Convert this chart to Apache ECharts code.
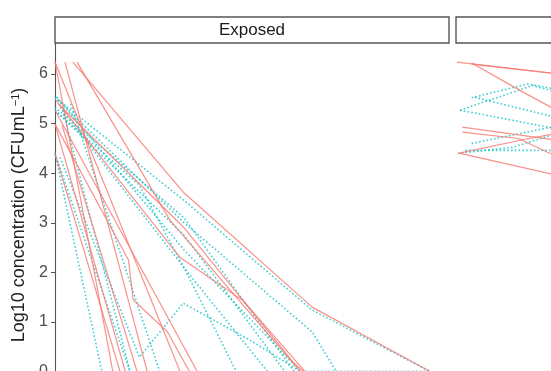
<!DOCTYPE html>
<html><head><meta charset="utf-8">
<script src="https://cdn.jsdelivr.net/npm/echarts@6/dist/echarts.min.js"></script>
<style>html,body{margin:0;padding:0;background:#fff}#c{width:551px;height:371px}</style>
</head><body><div id="c"></div>
<script>
// ---- data (time in h, value in log10 CFU/mL) ----
const yTicks = [0, 1, 2, 3, 4, 5, 6];
const panelNames = ['Exposed', ''];
// Exposed panel - solid red group
const exposedRed = [
  [[0, 6.24], [3.7, 0]],
  [[0, 6.24], [8.0, 0]],
  [[0.64, 6.24], [5.9, 0]],
  [[1.15, 6.24], [8.26, 3.6], [16.45, 1.3], [24, 0]],
  [[1.41, 6.24], [7.36, 3.05], [15.7, 0]],
  [[0, 4.99], [4.5, 0]],
  [[0, 4.4], [4.16, 0]],
  [[0.45, 4.97], [5.25, 0]],
  [[0, 4.99], [4.7, 2.25], [5.0, 1.45], [7.2, 0.8], [8.6, 0]],
  [[0, 5.27], [9.1, 0]],
  [[0, 5.5], [8, 2.3], [12, 1.44], [16, 0]],
  [[0.2, 5.4], [8.26, 2.9], [15.2, 0.2], [15.9, 0]]
];
// Exposed panel - dotted cyan group
const exposedCyan = [
  [[0, 5.53], [8.26, 3.45], [16.45, 1.24], [24, 0]],
  [[0, 5.33], [8.26, 3.1], [15.3, 0]],
  [[0, 5.27], [8.26, 2.75], [14.7, 0]],
  [[0.13, 5.53], [8.26, 2.45], [15.7, 0], [24, 0]],
  [[0.32, 5.33], [8.26, 2.09], [13.6, 0]],
  [[0, 4.4], [4.8, 0]],
  [[0.32, 4.32], [5.4, 0.29], [8.2, 1.38], [12.5, 0.63], [15.7, 0], [24, 0]],
  [[0, 4.4], [3.0, 0]],
  [[0.5, 5.27], [4.8, 0]],
  [[1.0, 5.4], [6.7, 0]],
  [[0, 5.27], [5.4, 3.76], [8.26, 2.09], [11.6, 0]],
  [[0, 5.53], [8.26, 3.0], [16.45, 0.8], [18, 0]]
];
// Second panel - solid red group
const controlRed = [
  [[0.06, 6.24], [8, 5.95]],
  [[1.0, 6.22], [4.2, 5.65], [8, 5.0]],
  [[1.0, 6.2], [8, 5.95]],
  [[0.4, 4.93], [8, 4.6]],
  [[0.4, 4.83], [4, 4.7], [8, 4.1]],
  [[0.13, 4.4], [4.2, 4.67], [8, 4.9]],
  [[0.26, 4.4], [8, 3.85]]
];
// Second panel - dotted cyan group
const controlCyan = [
  [[0.26, 5.27], [4.9, 5.77], [8, 5.5]],
  [[1.0, 5.52], [4.6, 5.8], [8, 5.6]],
  [[0.26, 5.27], [8, 4.8]],
  [[1.2, 5.53], [8, 5.0]],
  [[0.13, 4.4], [3.6, 4.52], [8, 4.95]],
  [[0.6, 4.46], [8, 4.46]],
  [[1.0, 4.6], [8, 5.05]]
];

// ---- layout / style ----
const FONT = "'Liberation Sans', Arial, sans-serif";
const RED = '#F8766D', CYAN = '#00BFC4';
const G = { lefts: [55, 456], top: 43, width: 394, height: 344, stripTop: 17, stripH: 26 };
const X_MAX = 25.2, Y_MIN = -0.31, Y_MAX = 6.625;

const grids = G.lefts.map(l => ({ left: l, top: G.top, width: G.width, height: G.height,
  containLabel: false, outerBoundsMode: 'none' }));
const xAxes = G.lefts.map((l, i) => ({ type: 'value', gridIndex: i, min: 0, max: X_MAX, show: false }));
const yAxes = G.lefts.map((l, i) => ({
  type: 'value', gridIndex: i, min: Y_MIN, max: Y_MAX, show: i === 0,
  splitLine: { show: false },
  axisLine: { show: true, lineStyle: { color: '#555', width: 1.1 } },
  axisTick: { show: true, length: 4, lineStyle: { color: '#555', width: 1 }, customValues: yTicks },
  axisLabel: { customValues: yTicks, color: '#4D4D4D', fontSize: 16, fontFamily: FONT, margin: 7, padding: [3, 0, 0, 0] },
  name: i === 0 ? 'Log10 concentration (CFUmL{sup|−1})' : '',
  nameLocation: 'middle', nameGap: 27, nameRotate: 90,
  nameTextStyle: { color: '#222', fontSize: 18, fontFamily: FONT,
    rich: { sup: { fontSize: 11, fontFamily: FONT, color: '#222', verticalAlign: 'top', lineHeight: 12 } } }
}));

const series = [];
function addGroup(lines, panel, color, dotted) {
  lines.forEach(pts => series.push({
    type: 'line', xAxisIndex: panel, yAxisIndex: panel, data: pts,
    showSymbol: false, symbol: 'none', silent: true, animation: false,
    lineStyle: dotted ? { color: color, width: 1.6, type: [1.6, 2.2], opacity: 0.75 }
                      : { color: color, width: 1.2, opacity: 0.8 }
  }));
}
addGroup(exposedCyan, 0, CYAN, true);
addGroup(exposedRed, 0, RED, false);
addGroup(controlCyan, 1, CYAN, true);
addGroup(controlRed, 1, RED, false);

const graphic = [];
G.lefts.forEach((l, i) => {
  graphic.push({ type: 'rect', z: 100, shape: { x: l, y: G.stripTop, width: G.width, height: G.stripH },
    style: { fill: '#fff', stroke: '#555', lineWidth: 1.4 } });
  if (panelNames[i]) graphic.push({ type: 'text', z: 101, x: l + G.width / 2, y: G.stripTop + G.stripH / 2,
    style: { text: panelNames[i], fill: '#1A1A1A', font: '17px ' + FONT, align: 'center', verticalAlign: 'middle' } });
});

const chart = echarts.init(document.getElementById('c'), null, { renderer: 'canvas' });
chart.setOption({ animation: false, backgroundColor: '#fff', grid: grids, xAxis: xAxes, yAxis: yAxes, series, graphic });
</script></body></html>
